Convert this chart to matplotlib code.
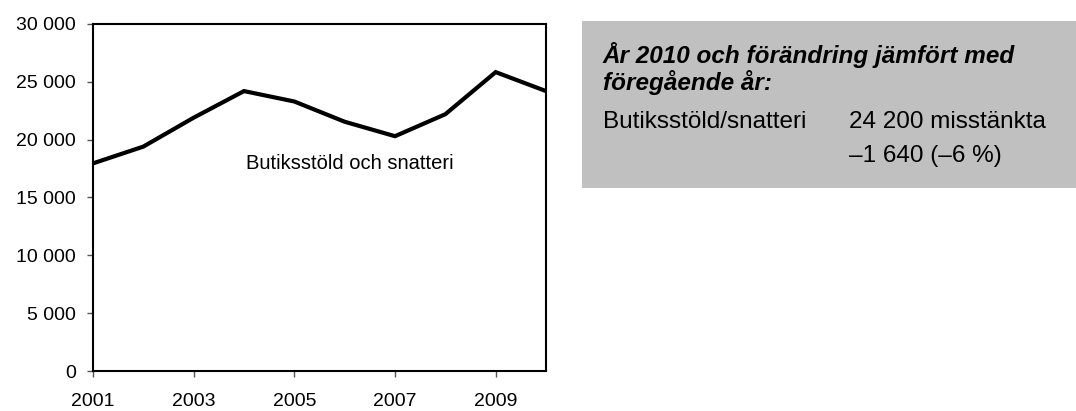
import matplotlib
matplotlib.use("Agg")
import matplotlib.pyplot as plt
from matplotlib.patches import Rectangle

years = [2001, 2002, 2003, 2004, 2005, 2006, 2007, 2008, 2009, 2010]
values = [17950, 19400, 21900, 24200, 23300, 21550, 20300, 22200, 25840, 24200]
x_ticks = [2001, 2003, 2005, 2007, 2009]
y_ticks = [0, 5000, 10000, 15000, 20000, 25000, 30000]
y_tick_labels = ["0", "5 000", "10 000", "15 000", "20 000", "25 000", "30 000"]
series_label = "Butiksstöld och snatteri"
box_title_lines = ["År 2010 och förändring jämfört med", "föregående år:"]
box_row_label = "Butiksstöld/snatteri"
box_row_value = "24 200 misstänkta"
box_row_change = "–1 640 (–6 %)"

plt.rcParams["font.family"] = ["Liberation Sans", "DejaVu Sans"]

W, H = 1076, 411
fig = plt.figure(figsize=(W / 100, H / 100), dpi=100)


def fy(py):
    return 1 - py / H


# axes in pixel coords: left 93, right 546, top 24, bottom 371
ax = fig.add_axes([93 / W, fy(371), (546 - 93) / W, (371 - 24) / H])
ax.plot(years, values, color="black", lw=3, solid_joinstyle="miter")
ax.set_xlim(2001, 2010)
ax.set_ylim(0, 30000)
ax.set_xticks(x_ticks)
ax.set_xticklabels([str(x) for x in x_ticks], fontsize=14)
ax.set_yticks(y_ticks)
ax.set_yticklabels(y_tick_labels, fontsize=14)
ax.tick_params(axis="both", direction="out", length=4.5, width=1, color="#555555")
ax.tick_params(axis="x", pad=11)
ax.tick_params(axis="y", pad=8)
for s in ax.spines.values():
    s.set_linewidth(1.5)
    s.set_color("black")
ax.text(2006.1, 17980, series_label, fontsize=14.5, ha="center", va="center")

# grey info box
fig.patches.append(Rectangle((582 / W, fy(188)), (W - 582) / W, (188 - 21) / H,
                             transform=fig.transFigure, facecolor="#C0C0C0",
                             edgecolor="none", zorder=0))
fig.text(603 / W, fy(63), box_title_lines[0], fontsize=17.5, fontweight="bold",
         style="italic", ha="left", va="baseline")
fig.text(603 / W, fy(90), box_title_lines[1], fontsize=17.5, fontweight="bold",
         style="italic", ha="left", va="baseline")
fig.text(603 / W, fy(128), box_row_label, fontsize=17.5, ha="left", va="baseline")
fig.text(849 / W, fy(128), box_row_value, fontsize=17.5, ha="left", va="baseline")
fig.text(849 / W, fy(162), box_row_change, fontsize=17.5, ha="left", va="baseline")

fig.savefig("out.png", dpi=100)
